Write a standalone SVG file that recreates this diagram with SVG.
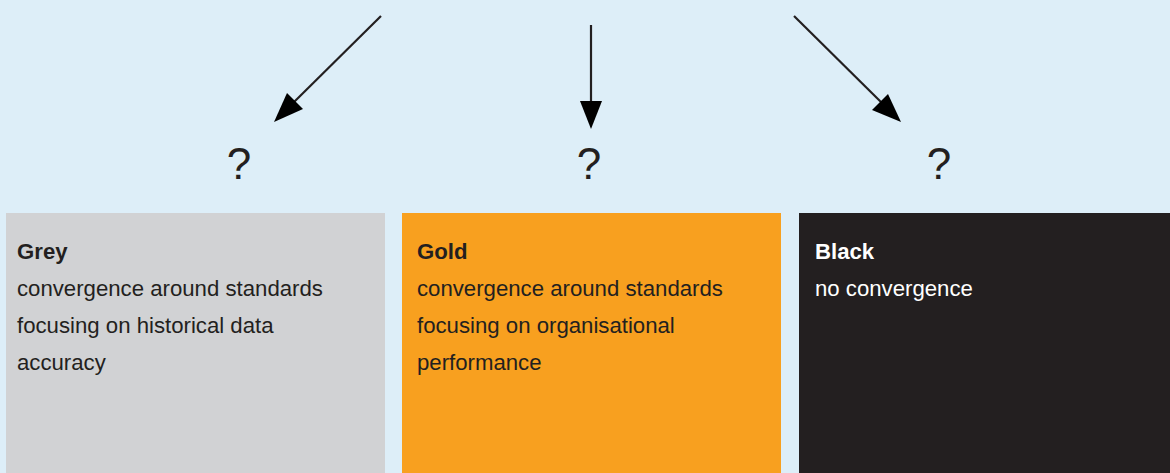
<svg xmlns="http://www.w3.org/2000/svg" width="1170" height="473" viewBox="0 0 1170 473">
<style>
.t{font-family:"Liberation Sans",Arial,sans-serif;font-size:22.2px;fill:#231f20}
.b{font-weight:bold}
.w{fill:#ffffff}
.q{font-family:"Liberation Sans",Arial,sans-serif;font-size:44px;fill:#231f20;text-anchor:middle}
.c{stroke:#231f20;stroke-width:2.2;fill:none}
.h{fill:#000}
</style>
<rect width="1170" height="473" fill="#ddeef8"/>
<g id="connectors">
<line class="c" x1="381" y1="16" x2="292" y2="104"/>
<polygon class="h" points="274,122 287,93 303,109"/>
<line class="c" x1="591" y1="25" x2="591" y2="105"/>
<polygon class="h" points="591,129 580,101 602,101"/>
<line class="c" x1="794" y1="16" x2="883" y2="104"/>
<polygon class="h" points="901,122 872,110 888,94"/>
</g>
<g id="q1"><text class="q" x="239" y="179">?</text></g>
<g id="q2"><text class="q" x="589" y="179">?</text></g>
<g id="q3"><text class="q" x="939" y="179">?</text></g>
<g id="grey">
<rect x="6" y="213" width="379" height="260" fill="#d1d2d4"/>
<text class="t b" x="17" y="259">Grey</text>
<text class="t" x="17" y="296">convergence around standards</text>
<text class="t" x="17" y="333">focusing on historical data</text>
<text class="t" x="17" y="370">accuracy</text>
</g>
<g id="gold">
<rect x="402" y="213" width="379" height="260" fill="#f8a01f"/>
<text class="t b" x="417" y="259">Gold</text>
<text class="t" x="417" y="296">convergence around standards</text>
<text class="t" x="417" y="333">focusing on organisational</text>
<text class="t" x="417" y="370">performance</text>
</g>
<g id="black">
<rect x="799" y="213" width="371" height="260" fill="#231f20"/>
<text class="t b w" x="815" y="259">Black</text>
<text class="t w" x="815" y="296">no convergence</text>
</g>
</svg>
